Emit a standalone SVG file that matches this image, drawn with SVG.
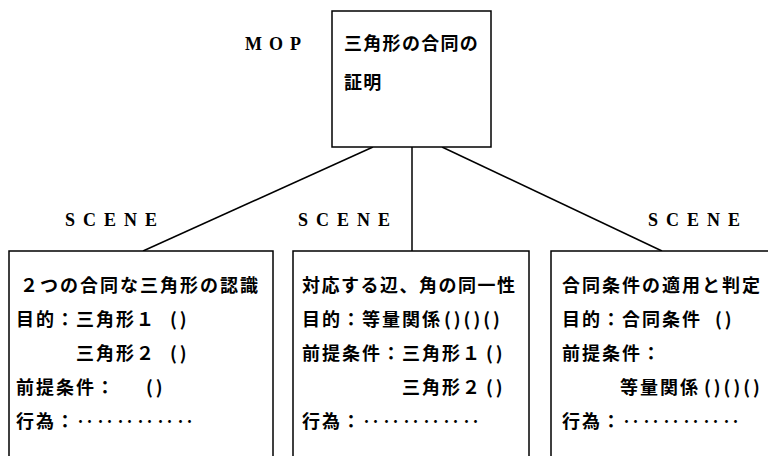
<svg xmlns="http://www.w3.org/2000/svg" width="768" height="456" viewBox="0 0 768 456">
<style>
.box{fill:#fff;stroke:#000;stroke-width:1.5}
.ln{stroke:#000;stroke-width:1.5;fill:none}
.jp{font-family:"Noto Sans CJK JP","Noto Sans CJK SC",sans-serif;font-size:18px;font-weight:bold;letter-spacing:2px;fill:#000}
.lab{font-family:"Liberation Serif",serif;font-size:18px;font-weight:bold;fill:#000}
.par{letter-spacing:3px}
</style>
<rect width="768" height="456" fill="#fff"/>
<g id="connectors">
<line class="ln" x1="373" y1="147" x2="143" y2="251"/>
<line class="ln" x1="412" y1="147" x2="412" y2="251"/>
<line class="ln" x1="442" y1="147" x2="662" y2="251"/>
</g>
<g id="mop">
<text class="lab" x="245" y="50" style="letter-spacing:7px">MOP</text>
<rect class="box" x="332" y="11" width="159" height="136"/>
<text class="jp" x="344" y="50" style="letter-spacing:1.3px">三角形の合同の</text>
<text class="jp" x="344" y="89" style="letter-spacing:1.3px">証明</text>
</g>
<g id="scene1">
<text class="lab" x="65" y="226" style="letter-spacing:8px">SCENE</text>
<rect class="box" x="9" y="251" width="264" height="210"/>
<text class="jp" x="20" y="292">２つの合同な三角形の認識</text>
<text class="jp" x="16" y="326">目的：三角形１<tspan class="par" x="170">()</tspan></text>
<text class="jp" x="76" y="360">三角形２<tspan class="par" x="170">()</tspan></text>
<text class="jp" x="16" y="394">前提条件：<tspan class="par" x="146">()</tspan></text>
<text class="jp" x="16" y="428">行為：‥‥‥‥‥‥</text>
</g>
<g id="scene2">
<text class="lab" x="298" y="226" style="letter-spacing:8px">SCENE</text>
<rect class="box" x="293" y="251" width="236" height="210"/>
<text class="jp" x="302" y="292" style="letter-spacing:1.5px">対応する辺、角の同一性</text>
<text class="jp" x="302" y="326">目的：等量関係<tspan class="par" x="444">()()()</tspan></text>
<text class="jp" x="302" y="360">前提条件：三角形１<tspan class="par" x="486">()</tspan></text>
<text class="jp" x="402" y="394">三角形２<tspan class="par" x="486">()</tspan></text>
<text class="jp" x="302" y="428">行為：‥‥‥‥‥‥</text>
</g>
<g id="scene3">
<text class="lab" x="648" y="226" style="letter-spacing:8px">SCENE</text>
<rect class="box" x="551" y="251" width="230" height="210"/>
<text class="jp" x="562" y="292">合同条件の適用と判定</text>
<text class="jp" x="562" y="326">目的：合同条件<tspan class="par" x="715">()</tspan></text>
<text class="jp" x="562" y="360">前提条件：</text>
<text class="jp" x="620" y="394">等量関係<tspan class="par" x="704">()()()</tspan></text>
<text class="jp" x="562" y="428">行為：‥‥‥‥‥‥</text>
</g>
</svg>
